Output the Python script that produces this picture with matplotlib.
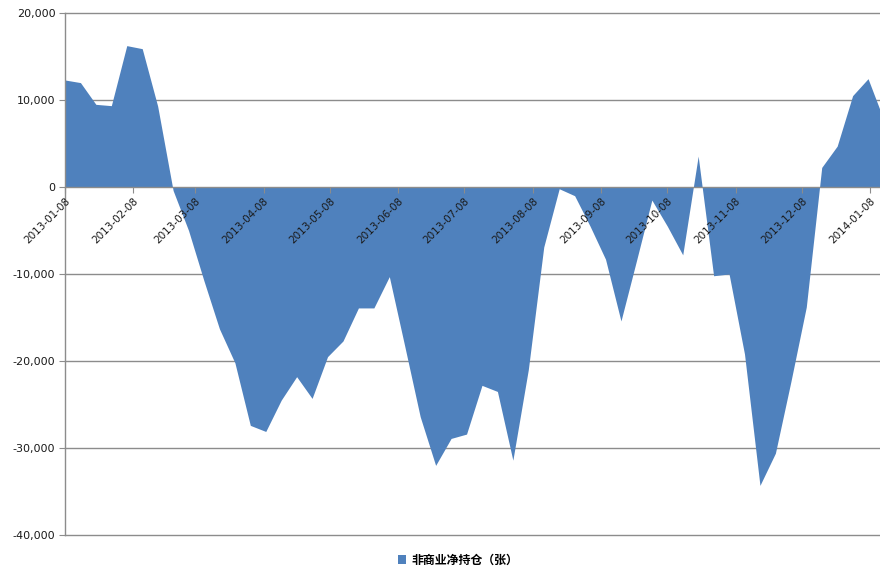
import matplotlib
matplotlib.use("Agg")
import matplotlib.pyplot as plt
from matplotlib.patches import Patch
from matplotlib.ticker import FuncFormatter
import pandas as pd

plt.rcParams['font.family'] = ['DejaVu Sans', 'Noto Sans CJK SC']

dates = ["2013-01-08", "2013-01-15", "2013-01-22", "2013-01-29", "2013-02-05", "2013-02-12",
         "2013-02-19", "2013-02-26", "2013-03-05", "2013-03-12", "2013-03-19", "2013-03-26",
         "2013-04-02", "2013-04-09", "2013-04-16", "2013-04-23", "2013-04-30", "2013-05-07",
         "2013-05-14", "2013-05-21", "2013-05-28", "2013-06-04", "2013-06-11", "2013-06-18",
         "2013-06-25", "2013-07-02", "2013-07-09", "2013-07-16", "2013-07-23", "2013-07-30",
         "2013-08-06", "2013-08-13", "2013-08-20", "2013-08-27", "2013-09-03", "2013-09-10",
         "2013-09-17", "2013-09-24", "2013-10-01", "2013-10-08", "2013-10-15", "2013-10-22",
         "2013-10-29", "2013-11-05", "2013-11-12", "2013-11-19", "2013-11-26", "2013-12-03",
         "2013-12-10", "2013-12-17", "2013-12-24", "2013-12-31", "2014-01-07", "2014-01-14"]

net_positions = [12300, 12000, 9500, 9350, 16250, 15900,
                 9300, -400, -5000, -10800, -16300, -20200,
                 -27400, -28100, -24500, -21800, -24300, -19500,
                 -17700, -13900, -13900, -10300, -18300, -26400,
                 -32000, -28900, -28400, -22800, -23500, -31400,
                 -21000, -6900, -200, -1000, -4500, -8300,
                 -15400, -8500, -1500, -4500, -7800, 3550,
                 -10200, -10000, -19200, -34300, -30600, -22400,
                 -13800, 2250, 4700, 10500, 12450, 7800]

tick_dates = ["2013-01-08", "2013-02-08", "2013-03-08", "2013-04-08", "2013-05-08",
              "2013-06-08", "2013-07-08", "2013-08-08", "2013-09-08", "2013-10-08",
              "2013-11-08", "2013-12-08", "2014-01-08"]

y_ticks = [20000, 10000, 0, -10000, -20000, -30000, -40000]

series_name = "非商业净持仓（张）"

x = pd.to_datetime(dates)
xt = pd.to_datetime(tick_dates)

fig = plt.figure(figsize=(8.8, 5.72), dpi=100)
ax = fig.add_axes([65/880, 1-535/572, (883.5-65)/880, (535-13)/572])

fill_color = '#4F81BD'
grid_color = '#8C8C8C'

ax.fill_between(x, net_positions, 0, color=fill_color, linewidth=0, zorder=2)

ax.set_ylim(-40000, 20000)
ax.set_xlim(x[0], x[-1])
ax.set_yticks(y_ticks)
ax.yaxis.set_major_formatter(FuncFormatter(lambda v, p: f"{int(v):,}"))

# horizontal gridlines beneath the area
for v in y_ticks:
    if v != 0:
        ax.axhline(v, color=grid_color, linewidth=1.0, zorder=1, clip_on=False)

ax.set_axisbelow(False)

for s in ['top', 'right']:
    ax.spines[s].set_visible(False)
ax.spines['left'].set_color(grid_color)
ax.spines['left'].set_linewidth(1.0)
ax.spines['left'].set_zorder(3)
ax.spines['bottom'].set_position(('data', 0))
ax.spines['bottom'].set_color(grid_color)
ax.spines['bottom'].set_linewidth(1.0)
ax.spines['bottom'].set_zorder(3)

ax.set_xticks(xt)
ax.set_xticklabels(tick_dates, rotation=45, ha='right', va='top',
                   rotation_mode='anchor', fontsize=7.5, color='#1a1a1a')
ax.tick_params(axis='x', direction='out', length=4, color=grid_color, pad=2)
ax.tick_params(axis='y', direction='out', length=4, color=grid_color,
               labelsize=8, labelcolor='#1a1a1a', pad=3)
ax.xaxis.set_zorder(4)
ax.yaxis.set_zorder(4)

handle = Patch(facecolor=fill_color, edgecolor='none')
leg = fig.legend([handle], [series_name], loc='center', bbox_to_anchor=(458/880, 1-560/572),
                 frameon=False, handlelength=0.7, handleheight=0.7, handletextpad=0.4,
                 prop={'family': ['Noto Sans CJK SC', 'DejaVu Sans'], 'size': 8.6, 'weight': 'bold'})

fig.savefig("out.png", dpi=100)
